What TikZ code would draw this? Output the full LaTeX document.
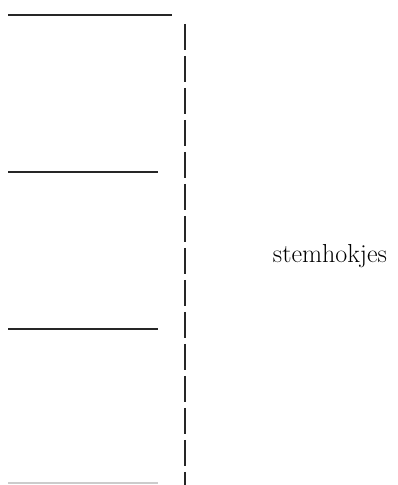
\documentclass[tikz,border=0pt]{standalone}
\begin{document}
\begin{tikzpicture}[x=1pt, y=1pt,
  plank/.style = {line width=1.3pt, black!85},
  wand/.style = {line width=1.3pt, black!85, dash pattern=on 26pt off 6pt}]
\useasboundingbox (0,0) rectangle (398,485);
\coordinate (a1) at (8,470);
\coordinate (a2) at (172,470);
\coordinate (b1) at (8,313);
\coordinate (b2) at (158,313);
\coordinate (c1) at (8,156);
\coordinate (c2) at (158,156);
\coordinate (d1) at (8,2);
\coordinate (d2) at (158,2);
\coordinate (w1) at (185,461);
\coordinate (w2) at (185,0);

\draw[plank, line width=1.6pt] (a1) -- (a2);
\draw[plank] (b1) -- (b2);
\draw[plank] (c1) -- (c2);
\draw[plank, black!20] (d1) -- (d2);
\draw[wand] (w1) -- (w2);
\node[anchor=base, font=\fontsize{26}{31}\selectfont] (label) at (330,222) {stemhokjes};
\end{tikzpicture}
\end{document}
